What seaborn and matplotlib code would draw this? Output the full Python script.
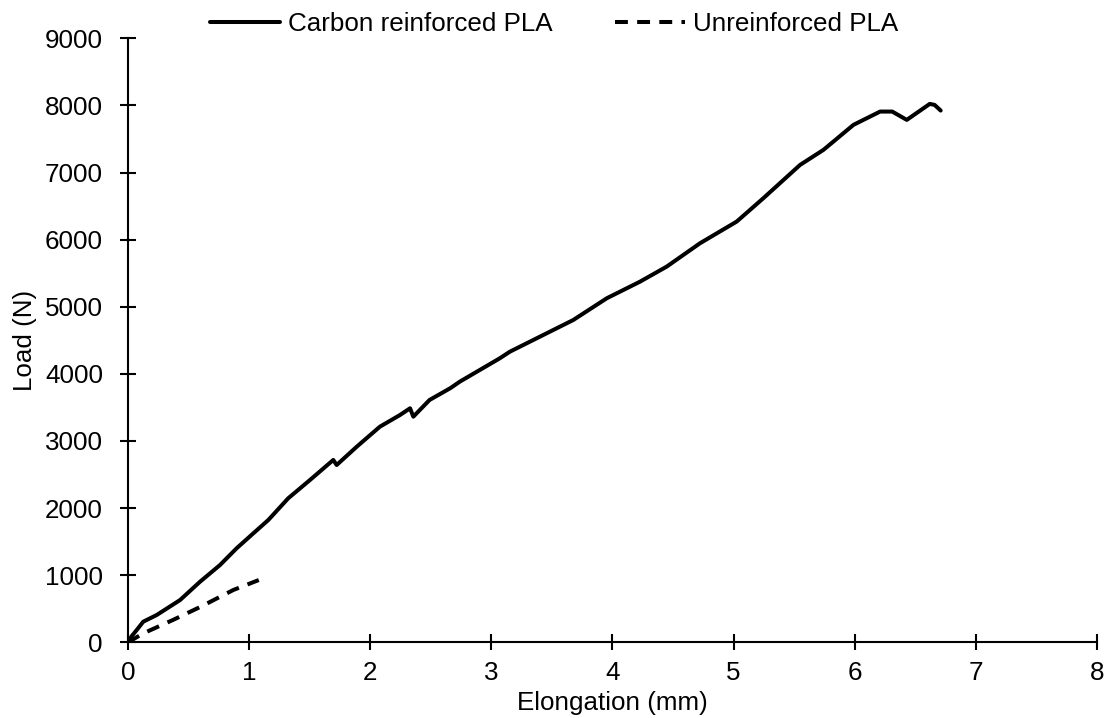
import numpy as np
import pandas as pd
import matplotlib
matplotlib.use('Agg')
import matplotlib.pyplot as plt
import seaborn as sns

# Load-elongation curves
carbon_x = [0, 0.03, 0.072, 0.126, 0.237, 0.43, 0.595, 0.76, 0.897, 1.035, 1.159,
            1.323, 1.503, 1.695, 1.723, 1.889, 2.08, 2.246, 2.329, 2.356, 2.49,
            2.66, 2.74, 3.07, 3.154, 3.677, 3.953, 4.228, 4.448, 4.723, 5.026,
            5.246, 5.549, 5.742, 5.99, 6.21, 6.31, 6.43, 6.62, 6.66, 6.71]
carbon_y = [0, 90, 183, 307, 407, 630, 903, 1152, 1401, 1624, 1823,
            2146, 2419, 2717, 2642, 2915, 3213, 3387, 3487, 3362, 3611,
            3785, 3884, 4232, 4331, 4803, 5126, 5374, 5598, 5946, 6269,
            6617, 7113, 7337, 7710, 7908, 7908, 7784, 8022, 8007, 7923]

plain_x = [0, 0.127, 0.37, 0.6, 0.87, 1.08]
plain_y = [0, 134, 332, 530, 780, 928]

LABELS = ['Carbon reinforced PLA', 'Unreinforced PLA']
X_TICKS = list(range(0, 9))
Y_TICKS = list(range(0, 10000, 1000))

sns.set_style('ticks')
plt.rcParams['font.family'] = ['Liberation Sans', 'DejaVu Sans']
plt.rcParams['text.color'] = 'black'
plt.rcParams['axes.labelcolor'] = 'black'
plt.rcParams['xtick.color'] = 'black'
plt.rcParams['ytick.color'] = 'black'
FS = 18.7

fig = plt.figure(figsize=(11.08, 7.18), dpi=100)
ax = fig.add_axes([0.1155, 0.1054, 0.8745, 0.8413])

sns.lineplot(x=carbon_x, y=carbon_y, ax=ax, sort=False, color='black',
             linewidth=2.9, label=LABELS[0],
             solid_joinstyle='round', solid_capstyle='round')
sns.lineplot(x=plain_x, y=plain_y, ax=ax, sort=False, color='black',
             linewidth=2.9, label=LABELS[1],
             dash_joinstyle='round', dash_capstyle='butt')
ax.lines[1].set_dashes((3.2, 2.3))

ax.set_xlim(0, 8)
ax.set_ylim(0, 9000)
ax.set_xticks(X_TICKS)
ax.set_yticks(Y_TICKS)
ax.tick_params(direction='inout', length=11, width=1.5, labelsize=FS,
               colors='black')
ax.tick_params(axis='x', pad=8)
ax.tick_params(axis='y', pad=12.5)
for s in ['left', 'bottom']:
    ax.spines[s].set_linewidth(1.5)
    ax.spines[s].set_color('black')
sns.despine(ax=ax)

ax.set_xlabel('Elongation (mm)', fontsize=FS, labelpad=4)
ax.set_ylabel('Load (N)', fontsize=FS, labelpad=6)

ax.get_legend().remove()
handles, labels = ax.get_legend_handles_labels()
fig.legend(handles, labels, loc='center', bbox_to_anchor=(0.5, 0.966), ncol=2,
           frameon=False, fontsize=FS, handlelength=2.7, handletextpad=0.3,
           columnspacing=2.4, borderaxespad=0)

plt.savefig('out.png', dpi=100)
plt.close()
